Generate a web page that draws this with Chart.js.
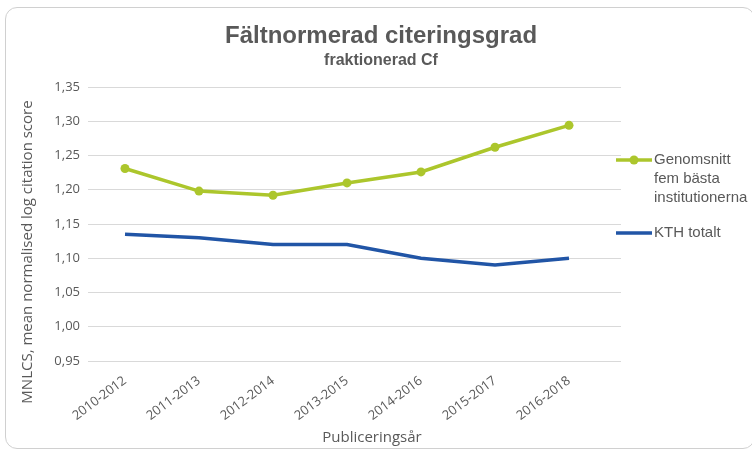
<!DOCTYPE html>
<html>
<head>
<meta charset="utf-8">
<script src="https://cdn.jsdelivr.net/npm/chart.js@4/dist/chart.umd.min.js"></script>
<style>
  html, body { margin: 0; padding: 0; background: #fff; }
  #wrap { position: relative; width: 752px; height: 452px; }
  #frame { position: absolute; left: 5px; top: 7px; width: 750px; height: 442px;
           border: 1px solid #d0d0d0; border-radius: 12px; box-sizing: border-box; }
  canvas { position: absolute; left: 0; top: 0; }
</style>
</head>
<body>
<div id="wrap">
  <div id="frame"></div>
  <canvas id="myChart" width="752" height="452"></canvas>
</div>
<script>
const periods = ['2010-2012', '2011-2013', '2012-2014', '2013-2015', '2014-2016', '2015-2017', '2016-2018'];
const topFive = [1.231, 1.198, 1.192, 1.210, 1.226, 1.262, 1.294];
const kthTotal = [1.135, 1.130, 1.120, 1.120, 1.100, 1.090, 1.100];
const seriesNames = [['Genomsnitt', 'fem bästa', 'institutionerna'], ['KTH totalt']];
const yTitle = 'MNLCS, mean normalised log citation score';
const xTitle = 'Publiceringsår';

const GREEN = '#acc62c';
const BLUE = '#2155a6';
const TEXT = '#595959';
const GRID = '#d9d9d9';
const FONT = "'Liberation Sans', Arial, sans-serif";
const TICKFONT = "'Open Sans', 'Liberation Sans', sans-serif";

// Excel lets the gridlines run a bit past the last category
const gridTail = {
    id: 'gridTail',
    beforeDatasetsDraw(chart) {
        const ctx = chart.ctx;
        const y = chart.scales.y;
        ctx.save();
        ctx.strokeStyle = GRID;
        ctx.lineWidth = 1;
        y.ticks.forEach(function(t) {
            // same pixel snapping as Chart.js uses for its own grid
            const py = Math.round(y.getPixelForValue(t.value) - 0.5) + 0.5;
            ctx.beginPath();
            ctx.moveTo(chart.chartArea.right, py);
            ctx.lineTo(chart.chartArea.right + 15, py);
            ctx.stroke();
        });
        ctx.restore();
    }
};

// legend on the right with wrapped text, plus the axis titles (placed like Excel does)
const extras = {
    id: 'extras',
    afterDraw(chart) {
        const ctx = chart.ctx;
        const rows = [160, 233];
        ctx.save();
        chart.data.datasets.forEach(function(ds, i) {
            const y = rows[i];
            const x0 = 616;
            ctx.strokeStyle = ds.borderColor;
            ctx.lineWidth = 3.5;
            ctx.beginPath();
            ctx.moveTo(x0, y);
            ctx.lineTo(x0 + 36, y);
            ctx.stroke();
            if (ds.pointRadius > 0) {
                ctx.fillStyle = ds.borderColor;
                ctx.beginPath();
                ctx.arc(x0 + 18, y, 4.5, 0, Math.PI * 2);
                ctx.fill();
            }
            ctx.fillStyle = TEXT;
            ctx.font = '15px ' + FONT;
            ctx.textBaseline = 'middle';
            seriesNames[i].forEach(function(line, j) {
                ctx.fillText(line, x0 + 38, y + j * 19);
            });
        });

        ctx.fillStyle = TEXT;
        ctx.textAlign = 'center';
        ctx.textBaseline = 'middle';
        ctx.font = '15px ' + TICKFONT;
        ctx.fillText(xTitle, 372, 438);

        ctx.translate(28, 252);
        ctx.rotate(-Math.PI / 2);
        ctx.fillText(yTitle, 0, 0);
        ctx.restore();
    }
};

new Chart(document.getElementById('myChart'), {
    type: 'line',
    data: {
        labels: periods,
        datasets: [
            {
                label: seriesNames[0].join(' '),
                data: topFive,
                borderColor: GREEN,
                backgroundColor: GREEN,
                borderWidth: 3.5,
                pointRadius: 4.5,
                pointBackgroundColor: GREEN,
                pointBorderWidth: 0,
                tension: 0
            },
            {
                label: seriesNames[1].join(' '),
                data: kthTotal,
                borderColor: BLUE,
                backgroundColor: BLUE,
                borderWidth: 3.5,
                pointRadius: 0,
                tension: 0
            }
        ]
    },
    options: {
        responsive: false,
        animation: false,
        layout: { padding: { left: 10, right: 0, top: 0, bottom: 5 } },
        plugins: {
            legend: { display: false },
            tooltip: { enabled: false },
            title: {
                display: true,
                text: 'Fältnormerad citeringsgrad',
                color: TEXT,
                font: { family: FONT, size: 24, weight: 'bold' },
                padding: { top: 22, bottom: 0 }
            },
            subtitle: {
                display: true,
                text: 'fraktionerad Cf',
                color: TEXT,
                font: { family: FONT, size: 16, weight: 'bold' },
                padding: { top: 0, bottom: 17 }
            }
        },
        scales: {
            x: {
                offset: true,
                grid: { display: false },
                border: { display: false },
                ticks: {
                    color: TEXT,
                    font: { family: TICKFONT, size: 13 },
                    minRotation: 37,
                    maxRotation: 37,
                    padding: 4
                },
                afterFit(scale) { scale.height = 86; }
            },
            y: {
                min: 0.95,
                max: 1.35,
                border: { display: false },
                grid: { color: GRID, lineWidth: 1, drawTicks: false },
                ticks: {
                    stepSize: 0.05,
                    color: TEXT,
                    padding: 8,
                    font: { family: TICKFONT, size: 13 },
                    callback: function(v) { return v.toFixed(2).replace('.', ','); }
                },
                afterFit(scale) { scale.width = 78; }
            },
            // empty right axis that keeps room for the legend
            side: {
                position: 'right',
                grid: { display: false },
                border: { display: false },
                ticks: { display: false },
                afterFit(scale) { scale.width = 146; }
            }
        }
    },
    plugins: [gridTail, extras]
});
</script>
</body>
</html>
